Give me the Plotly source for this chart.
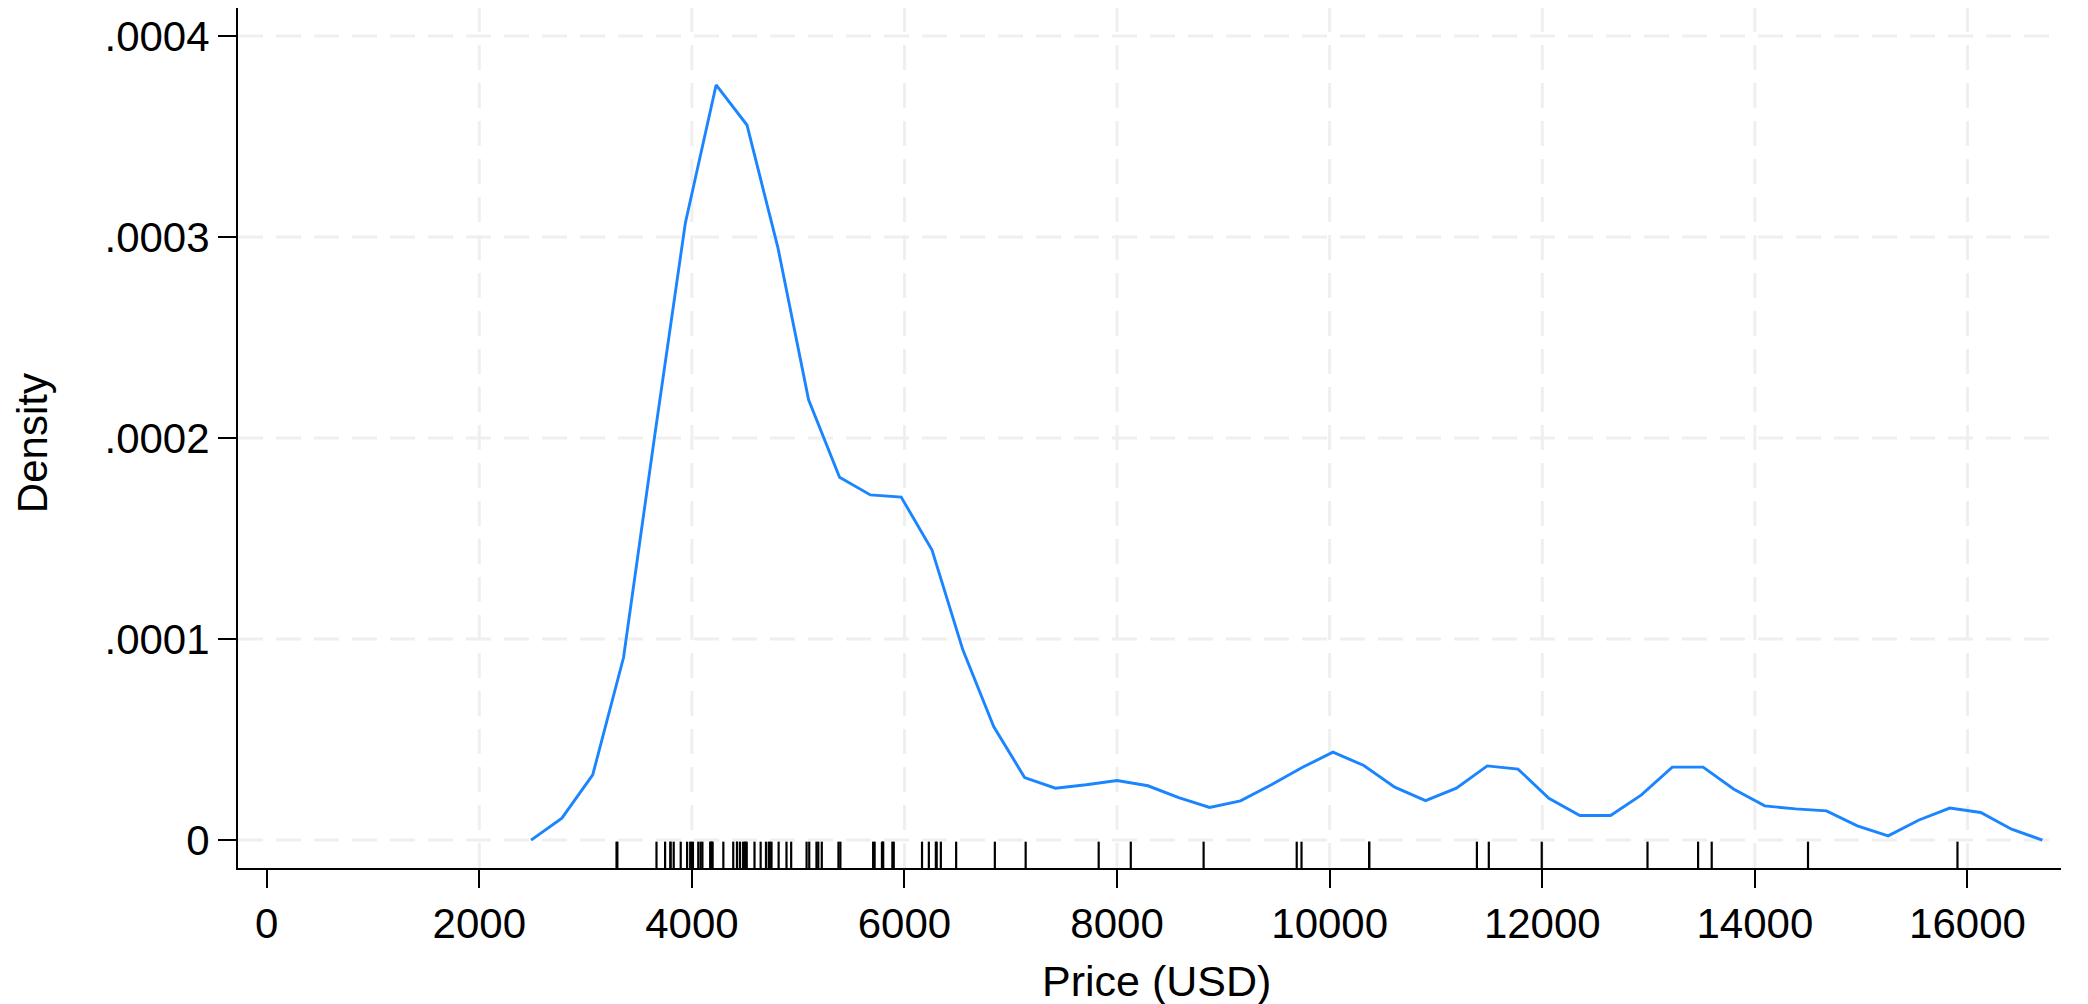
import plotly.graph_objects as go

# Kernel density estimate of price
grid_x = [2487, 2777, 3067, 3357, 3648, 3938, 4228, 4518, 4808, 5098,
          5389, 5679, 5969, 6259, 6549, 6839, 7130, 7420, 7710, 8000,
          8290, 8580, 8871, 9161, 9451, 9741, 10031, 10321, 10612, 10902,
          11192, 11482, 11772, 12062, 12353, 12643, 12933, 13223, 13513, 13803,
          14093, 14384, 14674, 14964, 15254, 15544, 15834, 16125, 16415, 16705]
density_e4 = [0.0, 0.109, 0.324, 0.908, 2.003, 3.068, 3.756, 3.557, 2.95, 2.19,
              1.805, 1.717, 1.706, 1.443, 0.946, 0.565, 0.311, 0.258, 0.275, 0.296,
              0.270, 0.211, 0.162, 0.195, 0.275, 0.361, 0.437, 0.371, 0.263, 0.196,
              0.258, 0.369, 0.353, 0.208, 0.122, 0.122, 0.225, 0.363, 0.363, 0.253,
              0.170, 0.155, 0.145, 0.071, 0.021, 0.100, 0.159, 0.137, 0.054, 0.0]
density = [v * 1e-4 for v in density_e4]

# Rug: observed prices (USD)
prices = [4099, 4749, 3799, 4816, 7827, 5788, 4453, 5189, 10372, 4082,
          11385, 14500, 15906, 3299, 5705, 4504, 5104, 3667, 3955, 3984,
          4010, 5886, 6342, 4389, 4187, 11497, 13594, 13466, 3829, 5379,
          6165, 4516, 6303, 3291, 8814, 5172, 4733, 4890, 4181, 4195,
          10371, 4647, 4425, 4482, 6486, 4060, 5798, 4934, 5222, 4723,
          4424, 4172, 9690, 6295, 9735, 6229, 4589, 5079, 8129, 4296,
          5799, 4499, 3995, 12990, 3895, 3798, 5899, 3748, 5719, 7140,
          5397, 4697, 6850, 11995]

x_ticks = [0, 2000, 4000, 6000, 8000, 10000, 12000, 14000, 16000]
x_tick_labels = ["0", "2000", "4000", "6000", "8000", "10000", "12000", "14000", "16000"]
y_ticks = [0, 0.0001, 0.0002, 0.0003, 0.0004]
y_tick_labels = ["0", ".0001", ".0002", ".0003", ".0004"]

X_RANGE = [-270, 16880]
Y_RANGE = [-0.139e-4, 4.139e-4]
RUG_TOP = -0.008e-4

FONT = "Liberation Sans, Arial, Helvetica, sans-serif"
GRID = "#efefef"

fig = go.Figure()

# Rug segments
rx, ry = [], []
for p in prices:
    rx += [p, p, None]
    ry += [Y_RANGE[0], RUG_TOP, None]
fig.add_trace(go.Scatter(x=rx, y=ry, mode="lines",
                         line=dict(color="black", width=2.2),
                         hoverinfo="skip", showlegend=False, cliponaxis=False))

fig.add_trace(go.Scatter(x=grid_x, y=density, mode="lines",
                         line=dict(color="#1a85ff", width=2.9),
                         showlegend=False))

shapes = []
for xv in x_ticks:
    if xv == 0:
        continue
    shapes.append(dict(type="line", xref="x", yref="paper", x0=xv, x1=xv, y0=0, y1=1,
                       line=dict(color=GRID, width=3, dash="25px,13px"), layer="below"))
for yv in y_ticks:
    shapes.append(dict(type="line", xref="paper", yref="y", x0=0, x1=1, y0=yv, y1=yv,
                       line=dict(color=GRID, width=3, dash="25px,13px"), layer="below"))

# The page body adds an 8px offset, so the figure is sized/margined to compensate.
fig.update_layout(
    width=2080, height=996,
    margin=dict(l=230, r=27, t=0, b=136),
    paper_bgcolor="white", plot_bgcolor="white",
    font=dict(family=FONT, size=42, color="black"),
    shapes=shapes,
    xaxis=dict(range=X_RANGE, tickvals=x_ticks, ticktext=x_tick_labels,
               showgrid=False, zeroline=False, showline=True, linecolor="black", linewidth=2,
               ticks="outside", ticklen=18, tickwidth=2, tickcolor="black",
               tickfont=dict(size=42)),
    yaxis=dict(range=Y_RANGE, tickvals=y_ticks, ticktext=y_tick_labels,
               showgrid=False, zeroline=False, showline=True, linecolor="black", linewidth=2,
               ticks="outside", ticklen=18, tickwidth=2, tickcolor="black",
               tickfont=dict(size=42)),
    annotations=[
        dict(text="Price (USD)", xref="paper", yref="paper", x=0.504, y=-0.131,
             xanchor="center", yanchor="middle", showarrow=False, font=dict(size=43)),
        dict(text="Density", xref="paper", yref="paper", x=-0.113, y=0.494,
             xanchor="center", yanchor="middle", textangle=-90, showarrow=False,
             font=dict(size=42)),
    ],
)

fig.write_html("out.html")
